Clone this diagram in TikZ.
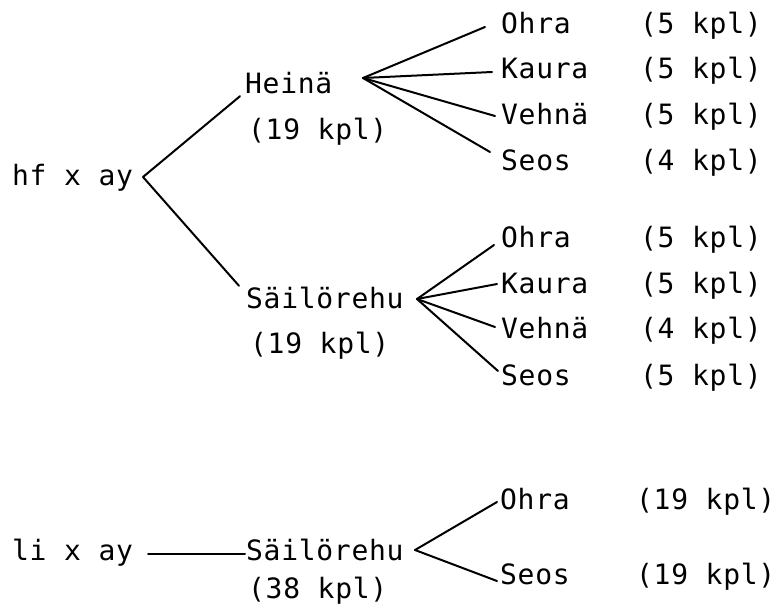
\documentclass[tikz,border=0pt]{standalone}
\usepackage{fontspec}
\newfontfamily\dm{DejaVu Sans Mono}[LetterSpace=2.5]
\begin{document}
\begin{tikzpicture}[x=1pt,y=-1pt,
  lbl/.style={anchor=base west,inner sep=0pt,text height=20pt,text depth=0pt,font=\dm\fontsize{28pt}{32pt}\selectfont},
  conn/.style={line width=2pt,line cap=round}]
\useasboundingbox (0,0) rectangle (779,605);
% upper tree
\node[lbl] (hf) at (12,185) {hf x ay};
\node[lbl] (heina) at (245,93) {Heinä};
\node[lbl] (heinaN) at (248,139) {(19 kpl)};
\node[lbl] (sail) at (246,308) {Säilörehu};
\node[lbl] (sailN) at (250,353) {(19 kpl)};
\node[lbl] (oh1) at (501,33) {Ohra};
\node[lbl] (ka1) at (501,78) {Kaura};
\node[lbl] (ve1) at (501,124) {Vehnä};
\node[lbl] (se1) at (501,170) {Seos};
\node[lbl] (oh1n) at (640,33) {(5 kpl)};
\node[lbl] (ka1n) at (640,78) {(5 kpl)};
\node[lbl] (ve1n) at (640,124) {(5 kpl)};
\node[lbl] (se1n) at (640,170) {(4 kpl)};
\node[lbl] (oh2) at (501,247) {Ohra};
\node[lbl] (ka2) at (501,293) {Kaura};
\node[lbl] (ve2) at (501,338) {Vehnä};
\node[lbl] (se2) at (501,385) {Seos};
\node[lbl] (oh2n) at (640,247) {(5 kpl)};
\node[lbl] (ka2n) at (640,293) {(5 kpl)};
\node[lbl] (ve2n) at (640,338) {(4 kpl)};
\node[lbl] (se2n) at (640,385) {(5 kpl)};
% lower tree
\node[lbl] (li) at (12,560) {li x ay};
\node[lbl] (sail3) at (246,560) {Säilörehu};
\node[lbl] (sail3N) at (248,598) {(38 kpl)};
\node[lbl] (oh3) at (500,509) {Ohra};
\node[lbl] (se3) at (500,584) {Seos};
\node[lbl] (oh3n) at (636,509) {(19 kpl)};
\node[lbl] (se3n) at (636,584) {(19 kpl)};
% branch points
\coordinate (hfB) at (143,177);
\coordinate (hB) at (363,78);
\coordinate (sB) at (417,299);
\coordinate (s3B) at (415,550);
% connectors
\draw[conn] (hfB) -- ([xshift=-5pt,yshift=-3pt]heina.south west);
\draw[conn] (hfB) -- ([xshift=-7pt,yshift=2pt]sail.north west);
\draw[conn] (hB) -- ([xshift=-16pt,yshift=-4pt]oh1.west);
\draw[conn] (hB) -- ([xshift=-9pt,yshift=-4pt]ka1.west);
\draw[conn] (hB) -- ([xshift=-6pt,yshift=-2pt]ve1.west);
\draw[conn] (hB) -- ([xshift=-11pt,yshift=8pt]se1.west);
\draw[conn] (sB) -- ([xshift=-7pt,yshift=-8pt]oh2.west);
\draw[conn] (sB) -- ([xshift=-4pt,yshift=-1pt]ka2.west);
\draw[conn] (sB) -- ([xshift=-6pt,yshift=1pt]ve2.west);
\draw[conn] (sB) -- ([xshift=-3pt,yshift=4pt]se2.west);
\draw[conn] ([xshift=15pt,yshift=-4pt]li.east) -- ([xshift=-1pt,yshift=-4pt]sail3.west);
\draw[conn] (s3B) -- ([xshift=-3pt,yshift=-3pt]oh3.west);
\draw[conn] (s3B) -- ([xshift=-3pt,yshift=-7pt]se3.west);
\end{tikzpicture}
\end{document}
